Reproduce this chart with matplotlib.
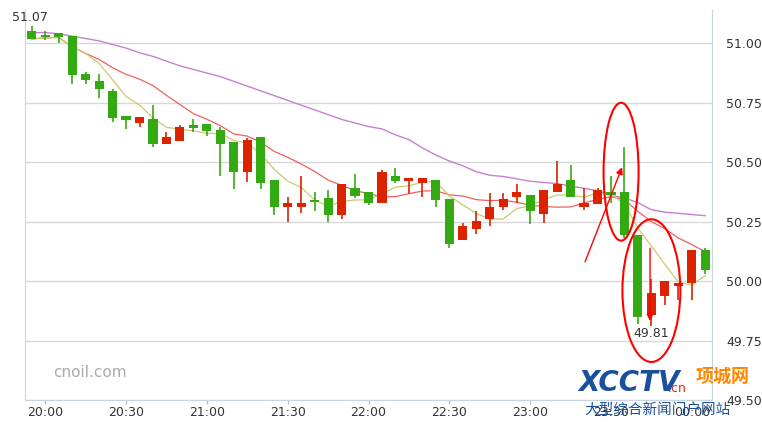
import matplotlib
matplotlib.use("Agg")
import matplotlib.pyplot as plt
import numpy as np
import pandas as pd
from matplotlib.patches import Ellipse

opens = [51.051,51.03,51.042,51.03,50.871,50.84,50.798,50.696,50.664,50.681,50.575,50.591,50.657,50.66,50.636,50.587,50.46,50.608,50.425,50.31,50.31,50.335,50.348,50.28,50.393,50.376,
         50.33,50.444,50.42,50.411,50.425,50.345,50.171,50.221,50.26,50.311,50.352,50.362,50.282,50.373,50.425,50.312,50.323,50.376,50.376,50.193,49.859,49.937,49.978,49.99,50.13]
closes = [51.018,51.028,51.028,50.868,50.845,50.807,50.685,50.677,50.688,50.575,50.608,50.646,50.643,50.633,50.575,50.46,50.594,50.411,50.31,50.327,50.327,50.333,50.28,50.407,50.358,50.33,
          50.46,50.42,50.435,50.435,50.343,50.158,50.233,50.254,50.313,50.347,50.376,50.295,50.383,50.407,50.352,50.327,50.383,50.362,50.193,49.849,49.95,50.0,49.99,50.13,50.048]
highs = [51.072,51.05,51.042,51.03,50.88,50.871,50.809,50.696,50.688,50.739,50.629,50.657,50.683,50.66,50.65,50.587,50.60,50.608,50.425,50.355,50.444,50.376,50.385,50.407,50.45,50.376,
         50.467,50.475,50.435,50.435,50.425,50.345,50.245,50.294,50.37,50.37,50.41,50.362,50.383,50.507,50.49,50.39,50.39,50.44,50.566,50.193,50.01,50.0,49.99,50.13,50.14]
lows = [51.017,51.013,51.001,50.828,50.828,50.769,50.668,50.639,50.647,50.566,50.575,50.591,50.629,50.612,50.44,50.386,50.415,50.386,50.28,50.247,50.285,50.296,50.25,50.26,50.35,50.32,
        50.33,50.413,50.366,50.355,50.31,50.14,50.171,50.196,50.23,50.30,50.33,50.24,50.245,50.373,50.352,50.30,50.323,50.33,50.18,49.82,49.81,49.90,49.92,49.92,50.03]
ma_long = [51.045,51.045,51.04,51.03,51.02,51.01,50.995,50.98,50.96,50.945,50.925,50.905,50.89,50.875,50.86,50.84,50.82,50.80,50.78,50.76,50.74,50.72,50.70,50.68,50.665,50.65,
           50.64,50.615,50.595,50.56,50.53,50.505,50.485,50.46,50.445,50.44,50.43,50.42,50.415,50.41,50.40,50.39,50.38,50.36,50.35,50.33,50.30,50.29,50.285,50.28,50.275]
tick_labels = ["20:00","20:30","21:00","21:30","22:00","22:30","23:00","23:30","00:00"]
tick_idx = [1,7,13,19,25,31,37,43,49]
y_ticks = [49.50,49.75,50.00,50.25,50.50,50.75,51.00]

fig = plt.figure(figsize=(7.62,4.22), dpi=100)
ax = fig.add_axes([25/762, 22/422, 687/762, 390/422])
n = len(opens)
x = np.arange(n)
cs = pd.Series(closes)
ma5 = cs.rolling(5, min_periods=1).mean()
ma10 = cs.rolling(10, min_periods=1).mean()
ax.plot(x, ma_long, color="#c77fd0", lw=1, zorder=2)
ax.plot(x, ma10, color="#f06060", lw=0.9, zorder=2)
ax.plot(x, ma5, color="#cfc870", lw=0.9, zorder=2)
for i in range(n):
    up = closes[i] >= opens[i]
    c = "#dd2200" if up else "#33aa11"
    ax.vlines(x[i], lows[i], highs[i], color=c, lw=1.2, zorder=3)
    b = min(opens[i], closes[i]); h = max(abs(closes[i]-opens[i]), 0.006)
    ax.bar(x[i], h, bottom=b, width=0.68, color=c, zorder=4)

ax.set_xlim(-0.5, 50.5)
ax.set_ylim(49.5, 51.14)
ax.yaxis.tick_right()
ax.set_yticks(y_ticks)
ax.set_yticklabels([f"{v:.2f}" for v in y_ticks], fontsize=9, color="#333333")
ax.set_xticks(tick_idx)
ax.set_xticklabels(tick_labels, fontsize=9, color="#333333")
ax.tick_params(axis="x", length=3, color="#aabbcc", pad=1)
ax.tick_params(axis="y", length=0, pad=10)
ax.grid(axis="y", color="#d8d8d8", lw=1)
ax.set_axisbelow(True)
ax.spines["top"].set_visible(False)
for s in ["left","right","bottom"]:
    ax.spines[s].set_color("#c8d4e0")

ax.text(-1.5, 51.11, "51.07", fontsize=9, color="#333333", ha="left", va="center")
ax.text(46, 49.78, "49.81", fontsize=9, color="#333333", ha="center", va="center")
ax.text(1.6, 49.615, "cnoil.com", fontsize=11, color="#aaaaaa", ha="left", va="center")

ax.add_patch(Ellipse((43.75, 50.46), 2.6, 0.58, fill=False, ec="#ff0000", lw=1.5, zorder=6))
ax.add_patch(Ellipse((46.0, 49.96), 4.3, 0.6, fill=False, ec="#ff0000", lw=1.5, zorder=6))
ax.annotate("", xy=(43.9, 50.49), xytext=(41.0, 50.07),
            arrowprops=dict(arrowstyle="-|>", color="#ff0000", lw=1), zorder=6)
ax.annotate("", xy=(45.9, 49.82), xytext=(45.9, 50.15),
            arrowprops=dict(arrowstyle="-|>", color="#ff0000", lw=1), zorder=6)

fig.text(578/762, 1-383/422, "XCCTV", fontsize=20, color="#1a4f9c", fontweight="bold", style="italic", ha="left", va="center")
fig.text(668/762, 1-388/422, ".cn", fontsize=9, color="#e03010", ha="left", va="center")
fig.text(696/762, 1-376/422, "项城网", fontsize=13, color="#ff8800", fontweight="bold", ha="left", va="center",
         family=["Noto Sans CJK SC","DejaVu Sans"])
fig.text(584/762, 1-410/422, "大型综合新闻门户网站", fontsize=10.5, color="#1a4f9c", ha="left", va="center",
         family=["Noto Sans CJK SC","DejaVu Sans"])
fig.savefig("out.png", dpi=100)
